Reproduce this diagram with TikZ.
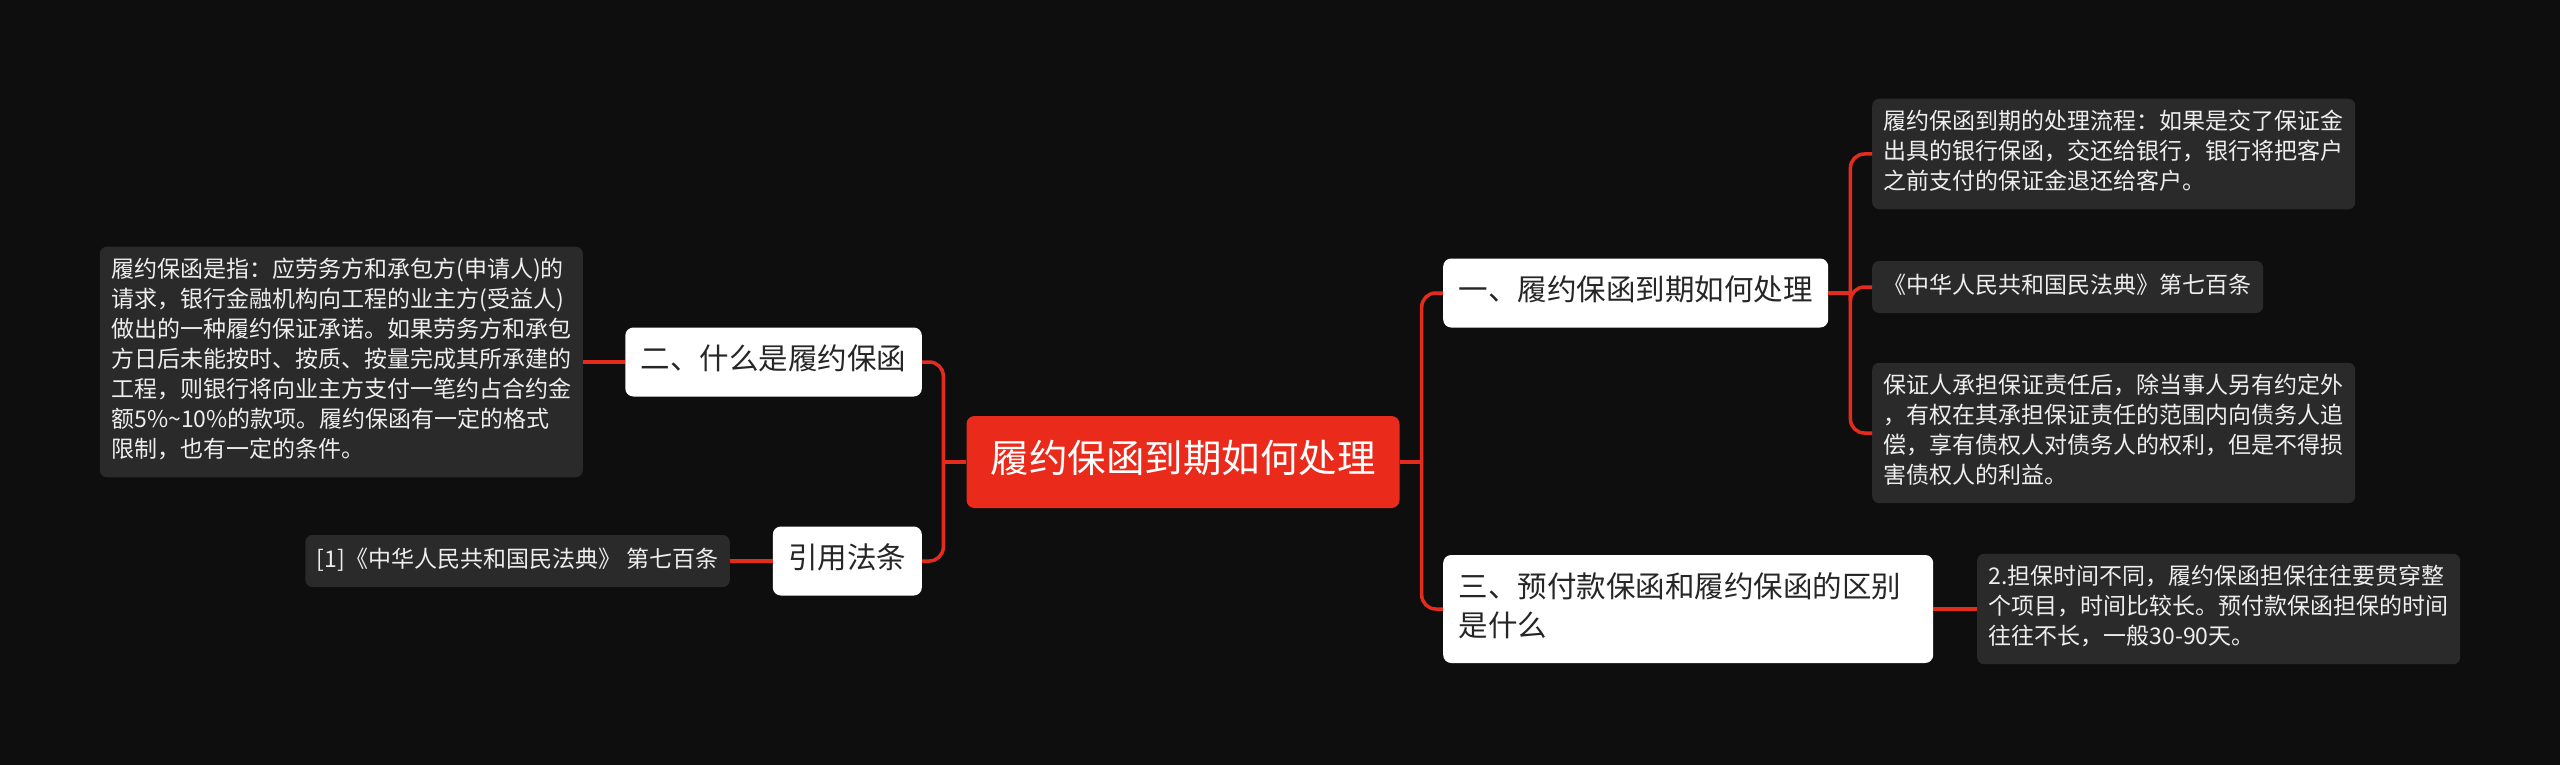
\documentclass[tikz,border=0pt]{standalone}
\usepackage{fontspec}
\setmainfont{Noto Sans CJK SC}

\definecolor{bgdark}{HTML}{0E0E0E}
\definecolor{rootred}{HTML}{EA2A1A}
\definecolor{linkred}{HTML}{E32C1D}
\definecolor{leafgray}{HTML}{2A2A2A}
\definecolor{leaftext}{HTML}{EEEEEE}
\definecolor{topictext}{HTML}{262626}

\newcommand*{\picw}{2560}
\newcommand*{\pich}{765}

\begin{document}
\begin{tikzpicture}
[
	x=1pt, y=-1pt,
	rootbox/.style={rounded corners=8pt,fill=rootred,text=white,inner xsep=24pt,inner ysep=21pt,font=\fontsize{38.5}{50}\selectfont,execute at begin node=\strut},
	topicbox/.style={rounded corners=8pt,fill=white,text=topictext,inner xsep=15.5pt,inner ysep=15pt,align=left,font=\fontsize{29.5}{39}\selectfont,execute at begin node=\strut,execute at end node=\strut},
	leafbox/.style={rounded corners=7pt,fill=leafgray,text=leaftext,inner xsep=11.5pt,inner ysep=11pt,align=left,font=\fontsize{23}{30}\selectfont,execute at begin node=\strut,execute at end node=\strut},
	link/.style={draw=linkred,line width=3.5pt,rounded corners=14pt}
]

	% background
	\fill[bgdark] (0,0) rectangle (\picw,\pich);

	% centre and topics
	\node[rootbox] at (1183,462) (root) {履约保函到期如何处理};
	\node[topicbox,anchor=west] at (1443,293) (n1) {一、履约保函到期如何处理};
	\node[topicbox,anchor=east] at (922,362) (n2) {二、什么是履约保函};
	\node[topicbox,anchor=west,text width=459pt] at (1443,609) (n3) {三、预付款保函和履约保函的区别\\是什么};
	\node[topicbox,anchor=east] at (922,561) (n4) {引用法条};

	% leaves
	\node[leafbox,anchor=west] at (1872,154) (l1a) {履约保函到期的处理流程：如果是交了保证金\\出具的银行保函，交还给银行，银行将把客户\\之前支付的保证金退还给客户。};
	\node[leafbox,anchor=west] at (1872,287) (l1b) {《中华人民共和国民法典》第七百条};
	\node[leafbox,anchor=west] at (1872,433) (l1c) {保证人承担保证责任后，除当事人另有约定外\\，有权在其承担保证责任的范围内向债务人追\\偿，享有债权人对债务人的权利，但是不得损\\害债权人的利益。};
	\node[leafbox,anchor=east] at (583,362) (l2a) {履约保函是指：应劳务方和承包方(申请人)的\\请求，银行金融机构向工程的业主方(受益人)\\做出的一种履约保证承诺。如果劳务方和承包\\方日后未能按时、按质、按量完成其所承建的\\工程，则银行将向业主方支付一笔约占合约金\\额5\%\textasciitilde10\%的款项。履约保函有一定的格式\\限制，也有一定的条件。};
	\node[leafbox,anchor=west] at (1977,609) (l3a) {2.担保时间不同，履约保函担保往往要贯穿整\\个项目，时间比较长。预付款保函担保的时间\\往往不长，一般30-90天。};
	\node[leafbox,anchor=east] at (730,561) (l4a) {[1]《中华人民共和国民法典》 第七百条};

	% connectors
	\coordinate (rj) at ([xshift=22pt]root.east);
	\coordinate (lj) at ([xshift=-23pt]root.west);
	\coordinate (j1) at ([xshift=22pt]n1.east);

	\draw[link] (root.east) -- (rj);
	\draw[link] (rj) |- (n1.west);
	\draw[link] (rj) |- (n3.west);

	\draw[link] (root.west) -- (lj);
	\draw[link] (lj) |- (n2.east);
	\draw[link] (lj) |- (n4.east);

	\draw[link] (n1.east) -- (j1);
	\foreach \leaf in {l1a,l1b,l1c}
		\draw[link] (j1) |- (\leaf.west);

	\draw[link] (n2.west) -- (l2a.east);
	\draw[link] (n3.east) -- (l3a.west);
	\draw[link] (n4.west) -- (l4a.east);

\end{tikzpicture}
\end{document}
